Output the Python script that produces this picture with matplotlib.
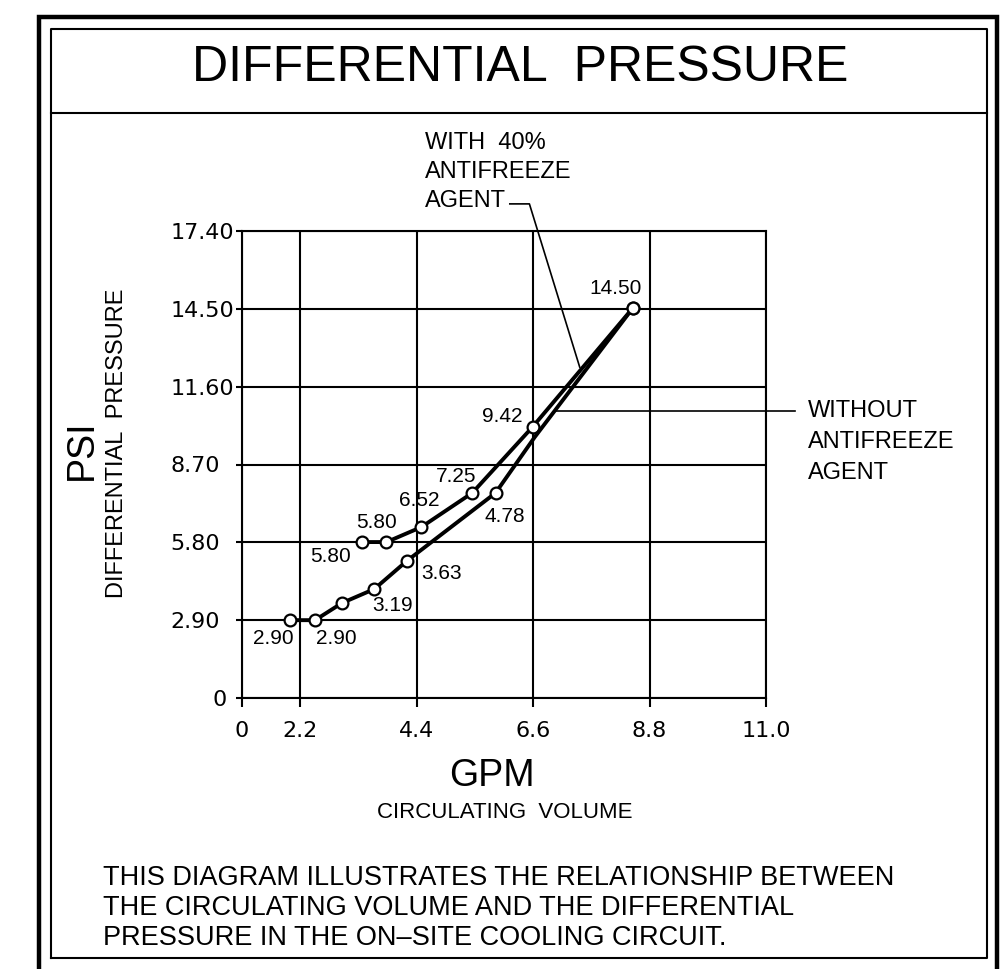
import numpy as np
import matplotlib.pyplot as plt
from matplotlib.transforms import ScaledTranslation

# axis ticks
gpm_ticks = [0, 2.2, 4.4, 6.6, 8.8, 11.0]
gpm_tick_labels = ['0', '2.2', '4.4', '6.6', '8.8', '11.0']
psi_ticks = [0, 2.9, 5.8, 8.7, 11.6, 14.5, 17.4]
psi_tick_labels = ['0', '2.90', '5.80', '8.70', '11.60', '14.50', '17.40']

# curve with 40% antifreeze agent (upper)
with_gpm = [3.37, 3.83, 4.49, 5.45, 6.59, 8.48]
with_psi = [5.81, 5.81, 6.37, 7.64, 10.10, 14.52]
with_labels = ['5.80', '5.80', '6.52', '7.25', '9.42', '14.50']

# curve without antifreeze agent (lower)
without_gpm = [1.83, 2.48, 2.99, 3.60, 4.21, 5.89, 6.63, 8.48]
without_psi = [2.90, 2.90, 3.54, 4.06, 5.10, 7.64, 9.72, 14.52]
without_labels = ['2.90', '2.90', '', '3.19', '3.63', '4.78', '', '']
without_markers = [0, 1, 2, 3, 4, 5, 7]

# curve names
with_name = ['WITH  40%', 'ANTIFREEZE', 'AGENT']
without_name = ['WITHOUT', 'ANTIFREEZE', 'AGENT']

# label offsets in pixels (dx, dy)
with_off = [(-32, -14), (-10, 20), (-2, 27), (-16, 16), (-30, 10), (-17, 20)]
without_off = [(-17, -18), (21, -18), (0, 0), (18, -16), (35, -12), (9, -24), (0, 0), (0, 0)]

W, H = 1002, 969
fig = plt.figure(figsize=(W / 100, H / 100), dpi=100)

# drawing frame (figure pixels)
bg = fig.add_axes([0, 0, 1, 1])
bg.set_xlim(0, W)
bg.set_ylim(H, 0)
bg.axis('off')
bg.plot([39, 39, 997, 997], [H, 17, 17, H], color='black', lw=3.2, solid_joinstyle='miter')
bg.plot([51, 51, 987, 987, 51], [958, 29, 29, 958, 958], color='black', lw=1.5)
bg.plot([51, 987], [113, 113], color='black', lw=1.5)

cad = ['Liberation Sans', 'DejaVu Sans']
bg.text(520, 68, 'DIFFERENTIAL  PRESSURE', ha='center', va='center', fontsize=36, family=cad)
bg.text(82, 450, 'PSI', ha='center', va='center', rotation=90, fontsize=27, family=cad)
bg.text(117, 443, 'DIFFERENTIAL  PRESSURE', ha='center', va='center', rotation=90, fontsize=17, family=cad)
bg.text(492, 776, 'GPM', ha='center', va='center', fontsize=27, family=cad)
bg.text(505, 812, 'CIRCULATING  VOLUME', ha='center', va='center', fontsize=16, family=cad)
bg.text(103, 865, 'THIS DIAGRAM ILLUSTRATES THE RELATIONSHIP BETWEEN\n'
        'THE CIRCULATING VOLUME AND THE DIFFERENTIAL\n'
        'PRESSURE IN THE ON\u2013SITE COOLING CIRCUIT.',
        ha='left', va='top', fontsize=19.5, family=cad, linespacing=1.2)


def fwd(x):
    x = np.asarray(x, dtype=float)
    return np.where(x < 2.2, x / 4.4, 0.5 + (x - 2.2) / 2.2)


def inv(u):
    u = np.asarray(u, dtype=float)
    return np.where(u < 0.5, u * 4.4, 2.2 + (u - 0.5) * 2.2)


ax = fig.add_axes([242 / W, 1 - 698 / H, (766 - 242) / W, (698 - 231) / H])
ax.set_facecolor('none')
ax.set_xscale('function', functions=(fwd, inv))
ax.set_xlim(0, 11.0)
ax.set_ylim(0, 17.4)
ax.set_xticks(gpm_ticks, gpm_tick_labels)
ax.set_yticks(psi_ticks, psi_tick_labels)
ax.grid(True, color='black', lw=1.5)
for s in ax.spines.values():
    s.set_linewidth(1.5)
ax.tick_params(axis='x', direction='out', length=6.5, width=1.5, pad=10, labelsize=16)
ax.tick_params(axis='y', direction='out', length=4.5, width=1.5, pad=47, labelsize=16)
for lab in ax.get_yticklabels():
    lab.set_horizontalalignment('left')
    lab.set_fontfamily('DejaVu Sans')
for lab in ax.get_xticklabels():
    lab.set_fontfamily('DejaVu Sans')
zero = ax.get_yticklabels()[0]
zero.set_transform(zero.get_transform() + ScaledTranslation(42 / 100, 0, fig.dpi_scale_trans))

ax.plot(with_gpm, with_psi, color='black', lw=2.8, marker='o', ms=8.5,
        mfc='white', mec='black', mew=1.6, clip_on=False, zorder=3)
ax.plot(without_gpm, without_psi, color='black', lw=2.8, clip_on=False, zorder=3)
ax.plot([without_gpm[i] for i in without_markers], [without_psi[i] for i in without_markers],
        ls='none', marker='o', ms=8.5, mfc='white', mec='black', mew=1.6, clip_on=False, zorder=4)

for x, y, t, (dx, dy) in zip(with_gpm, with_psi, with_labels, with_off):
    ax.annotate(t, (x, y), xytext=(dx, dy), textcoords='offset pixels',
                ha='center', va='center', fontsize=15, family=cad)
for x, y, t, (dx, dy) in zip(without_gpm, without_psi, without_labels, without_off):
    if t:
        ax.annotate(t, (x, y), xytext=(dx, dy), textcoords='offset pixels',
                    ha='center', va='center', fontsize=15, family=cad)

# leaders and curve names
ax.plot([6.16, 6.53, 7.48], [18.41, 18.41, 12.33], color='black', lw=1.2, clip_on=False)
for t, y in zip(with_name, [20.68, 19.60, 18.52]):
    ax.text(4.55, y, t, ha='left', va='center', fontsize=17, family=cad)
ax.plot([7.04, 11.55], [10.69, 10.69], color='black', lw=1.2, clip_on=False)
for t, y in zip(without_name, [10.69, 9.54, 8.38]):
    ax.text(11.79, y, t, ha='left', va='center', fontsize=17, family=cad)

fig.savefig('out.png', dpi=100)
